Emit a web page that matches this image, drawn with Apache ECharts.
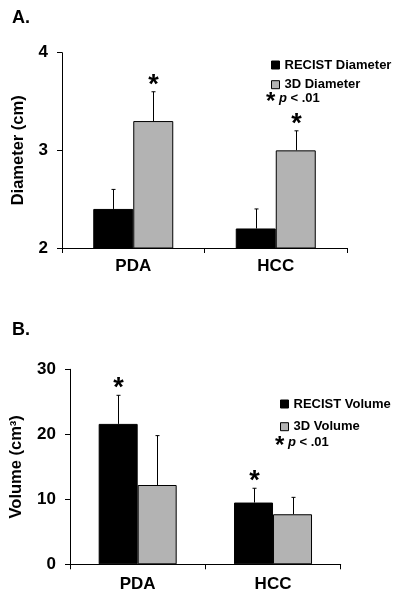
<!DOCTYPE html>
<html>
<head>
<meta charset="utf-8">
<script src="https://cdn.jsdelivr.net/npm/echarts@6/dist/echarts.min.js"></script>
<style>
html,body{margin:0;padding:0;background:#fff;}
#c{width:404px;height:599px;}
</style>
</head>
<body>
<div id="c"></div>
<script>
// ---- data ----
const categories = ['PDA', 'HCC'];
// Panel A: diameter (cm)
const diamRecist = [2.4, 2.2];
const diamRecistUpper = [2.6, 2.4];
const diam3D = [3.3, 3.0];
const diam3DUpper = [3.6, 3.2];
const diamRecistSig = [0, 0];
const diam3DSig = [1, 1];
const diamTicks = [2, 3, 4];
// Panel B: volume (cm3)
const volRecist = [21.6, 9.5];
const volRecistUpper = [26.0, 11.7];
const vol3D = [12.2, 7.7];
const vol3DUpper = [19.8, 10.3];
const volRecistSig = [1, 1];
const vol3DSig = [0, 0];
const volTicks = [0, 10, 20, 30];

const FONT = '"Liberation Sans", Arial, sans-serif';
const GRAY = '#b3b3b3';
const BAR_W = 40;

function errRender(offset) {
  return function (params, api) {
    const c = api.coord([api.value(0), api.value(1)]);
    const t = api.coord([api.value(0), api.value(2)]);
    const x = Math.round(c[0] + offset) + 0.5;
    const children = [
      { type: 'line', shape: { x1: x, y1: c[1], x2: x, y2: t[1] }, style: { stroke: '#000', lineWidth: 1 } },
      { type: 'line', shape: { x1: x - 2, y1: t[1], x2: x + 2, y2: t[1] }, style: { stroke: '#000', lineWidth: 1 } }
    ];
    if (api.value(3)) {
      children.push({ type: 'text', style: { text: '*', x: x, y: t[1] + 7, align: 'center', verticalAlign: 'bottom', font: 'bold 27px ' + FONT, fill: '#000' } });
    }
    return { type: 'group', children: children };
  };
}

function errData(means, uppers, sigs) {
  return means.map((m, i) => [i, m, uppers[i], sigs[i]]);
}

function yAxisCfg(gridIndex, ticks, name, nameGap, margin) {
  return {
    type: 'value', gridIndex: gridIndex,
    min: ticks[0], max: ticks[ticks.length - 1], interval: ticks[1] - ticks[0],
    name: name, nameLocation: 'middle', nameGap: nameGap, nameRotate: 90,
    nameTextStyle: { fontFamily: FONT, fontWeight: 'bold', fontSize: 16.5, color: '#000' },
    axisLine: { show: true, lineStyle: { color: '#000', width: 1 } },
    axisTick: { show: true, length: 5, lineStyle: { color: '#000' } },
    axisLabel: { fontFamily: FONT, fontWeight: 'bold', fontSize: 17, color: '#000', margin: margin },
    splitLine: { show: false }
  };
}

function xAxisCfg(gridIndex, margin) {
  return {
    type: 'category', gridIndex: gridIndex, data: categories,
    axisLine: { lineStyle: { color: '#000', width: 1 } },
    axisTick: { show: true, length: 5, lineStyle: { color: '#000' } },
    axisLabel: { fontFamily: FONT, fontWeight: 'bold', fontSize: 17, color: '#000', margin: margin }
  };
}

function pText(left, top) {
  return { type: 'text', left: left, top: top, style: {
    text: '{a|*} {p|p} < .01',
    rich: { a: { font: 'bold 24px ' + FONT, fill: '#000', padding: [8, 0, 0, 0] }, p: { font: 'italic bold 13px ' + FONT, fill: '#000' } },
    font: 'bold 13px ' + FONT, fill: '#000' } };
}

const legendBase = {
  orient: 'vertical', itemWidth: 8, itemHeight: 8, icon: 'rect',
  itemStyle: { borderColor: '#000', borderWidth: 1 },
  textStyle: { fontFamily: FONT, fontWeight: 'bold', fontSize: 13, color: '#000', lineHeight: 14 }
};

const chart = echarts.init(document.getElementById('c'), null, { renderer: 'canvas' });
chart.setOption({
  animation: false,
  backgroundColor: '#fff',
  grid: [
    { left: 62, right: 57, top: 52.7, bottom: 351 },
    { left: 67.7, right: 63.3, top: 369.3, bottom: 34.7 }
  ],
  xAxis: [xAxisCfg(0, 10), xAxisCfg(1, 12)],
  yAxis: [yAxisCfg(0, diamTicks, 'Diameter (cm)', 35, 14), yAxisCfg(1, volTicks, 'Volume (cm³)', 45, 14)],
  legend: [
    Object.assign({}, legendBase, { data: ['RECIST Diameter', '3D Diameter'], left: 266, top: 53, itemGap: 5.7 }),
    Object.assign({}, legendBase, { data: ['RECIST Volume', '3D Volume'], left: 275, top: 392, itemGap: 8.7 })
  ],
  graphic: [
    { type: 'text', left: 12, top: 9, style: { text: 'A.', font: 'bold 18px ' + FONT, fill: '#000' } },
    { type: 'text', left: 12, top: 321, style: { text: 'B.', font: 'bold 18px ' + FONT, fill: '#000' } },
    pText(266, 90),
    pText(275, 434)
  ],
  series: [
    { name: 'RECIST Diameter', type: 'bar', xAxisIndex: 0, yAxisIndex: 0, data: diamRecist, barWidth: BAR_W, barGap: '0%',
      itemStyle: { color: '#000', borderColor: '#000', borderWidth: 1 } },
    { name: '3D Diameter', type: 'bar', xAxisIndex: 0, yAxisIndex: 0, data: diam3D, barWidth: BAR_W, barGap: '0%',
      itemStyle: { color: GRAY, borderColor: '#000', borderWidth: 1 } },
    { name: 'RECIST Volume', type: 'bar', xAxisIndex: 1, yAxisIndex: 1, data: volRecist, barWidth: BAR_W - 1, barGap: '0%',
      itemStyle: { color: '#000', borderColor: '#000', borderWidth: 1 } },
    { name: '3D Volume', type: 'bar', xAxisIndex: 1, yAxisIndex: 1, data: vol3D, barWidth: BAR_W - 1, barGap: '0%',
      itemStyle: { color: GRAY, borderColor: '#000', borderWidth: 1 } },
    { type: 'custom', xAxisIndex: 0, yAxisIndex: 0, clip: false, renderItem: errRender(-BAR_W / 2), data: errData(diamRecist, diamRecistUpper, diamRecistSig), z: 1 },
    { type: 'custom', xAxisIndex: 0, yAxisIndex: 0, clip: false, renderItem: errRender(BAR_W / 2), data: errData(diam3D, diam3DUpper, diam3DSig), z: 1 },
    { type: 'custom', xAxisIndex: 1, yAxisIndex: 1, clip: false, renderItem: errRender(-(BAR_W - 1) / 2), data: errData(volRecist, volRecistUpper, volRecistSig), z: 1 },
    { type: 'custom', xAxisIndex: 1, yAxisIndex: 1, clip: false, renderItem: errRender((BAR_W - 1) / 2), data: errData(vol3D, vol3DUpper, vol3DSig), z: 1 }
  ]
});
</script>
</body>
</html>
